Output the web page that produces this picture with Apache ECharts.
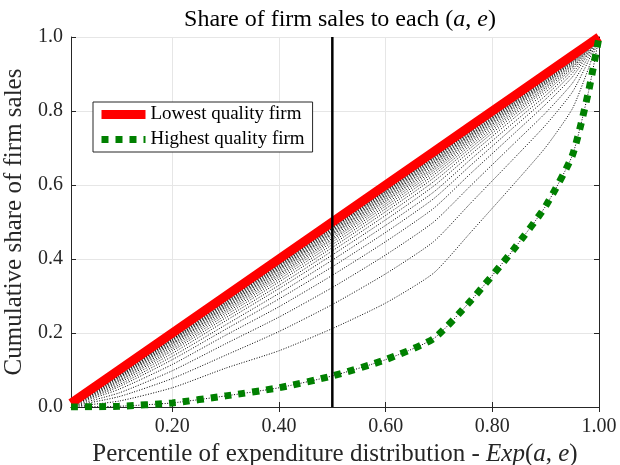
<!DOCTYPE html>
<html>
<head>
<meta charset="utf-8">
<script src="https://cdn.jsdelivr.net/npm/echarts@6/dist/echarts.min.js"></script>
<style>
  html, body { margin: 0; padding: 0; background: #fff; }
  #chart { width: 620px; height: 465px; }
</style>
</head>
<body>
<div id="chart"></div>
<script>
// Percentile grid of the expenditure distribution
const percentiles = [0.01, 0.10, 0.20, 0.30, 0.40, 0.50, 0.60, 0.69, 0.76, 0.84, 0.90, 0.95, 0.98, 1.00];

// Cumulative share of sales for the lowest-quality firm
const lowestShare = [0.01, 0.10, 0.20, 0.30, 0.40, 0.50, 0.60, 0.69, 0.76, 0.84, 0.90, 0.95, 0.98, 1.00];

// Cumulative share of sales for the highest-quality firm
const highestShare = [0.000, 0.002, 0.011, 0.030, 0.052, 0.084, 0.128, 0.185, 0.288, 0.426, 0.543, 0.680, 0.850, 1.000];

// Cumulative shares of the firms in between (high to low quality)
const middleShares = [
  [0.0010, 0.016, 0.052, 0.105, 0.152, 0.212, 0.281, 0.362, 0.473, 0.602, 0.702, 0.806, 0.914, 1],
  [0.0020, 0.028, 0.077, 0.140, 0.204, 0.277, 0.360, 0.447, 0.552, 0.671, 0.762, 0.851, 0.935, 1],
  [0.0030, 0.038, 0.098, 0.171, 0.243, 0.323, 0.411, 0.500, 0.599, 0.711, 0.795, 0.875, 0.946, 1],
  [0.0040, 0.048, 0.115, 0.194, 0.271, 0.356, 0.447, 0.537, 0.632, 0.738, 0.818, 0.892, 0.954, 1],
  [0.0050, 0.055, 0.128, 0.210, 0.292, 0.379, 0.472, 0.563, 0.654, 0.756, 0.832, 0.902, 0.958, 1],
  [0.0055, 0.060, 0.137, 0.222, 0.307, 0.397, 0.491, 0.581, 0.670, 0.769, 0.842, 0.910, 0.962, 1],
  [0.0060, 0.065, 0.145, 0.233, 0.320, 0.411, 0.506, 0.597, 0.683, 0.780, 0.851, 0.916, 0.965, 1],
  [0.0065, 0.069, 0.152, 0.241, 0.329, 0.422, 0.518, 0.609, 0.693, 0.788, 0.858, 0.920, 0.967, 1],
  [0.0068, 0.072, 0.157, 0.248, 0.338, 0.431, 0.528, 0.619, 0.701, 0.794, 0.863, 0.924, 0.968, 1],
  [0.0071, 0.075, 0.162, 0.254, 0.345, 0.439, 0.536, 0.627, 0.708, 0.799, 0.867, 0.927, 0.970, 1],
  [0.0074, 0.078, 0.166, 0.259, 0.351, 0.446, 0.543, 0.634, 0.714, 0.804, 0.872, 0.930, 0.971, 1],
  [0.0077, 0.080, 0.170, 0.263, 0.356, 0.452, 0.549, 0.640, 0.719, 0.808, 0.874, 0.932, 0.972, 1],
  [0.0079, 0.082, 0.172, 0.267, 0.360, 0.456, 0.555, 0.645, 0.723, 0.811, 0.877, 0.934, 0.973, 1],
  [0.0081, 0.084, 0.175, 0.270, 0.364, 0.461, 0.559, 0.649, 0.727, 0.814, 0.879, 0.936, 0.974, 1],
  [0.0083, 0.085, 0.178, 0.273, 0.368, 0.465, 0.563, 0.654, 0.730, 0.817, 0.881, 0.937, 0.974, 1],
  [0.0084, 0.087, 0.180, 0.275, 0.371, 0.468, 0.567, 0.657, 0.733, 0.819, 0.883, 0.939, 0.975, 1],
  [0.0086, 0.088, 0.182, 0.278, 0.374, 0.471, 0.570, 0.661, 0.736, 0.822, 0.885, 0.940, 0.975, 1],
  [0.0087, 0.089, 0.183, 0.280, 0.376, 0.474, 0.573, 0.663, 0.738, 0.823, 0.887, 0.941, 0.976, 1],
  [0.0088, 0.090, 0.185, 0.282, 0.379, 0.477, 0.576, 0.666, 0.740, 0.825, 0.888, 0.942, 0.976, 1],
  [0.0090, 0.091, 0.187, 0.284, 0.381, 0.479, 0.578, 0.669, 0.743, 0.827, 0.889, 0.943, 0.977, 1],
  [0.0091, 0.092, 0.188, 0.286, 0.383, 0.482, 0.581, 0.671, 0.745, 0.828, 0.890, 0.943, 0.977, 1],
  [0.0092, 0.093, 0.189, 0.287, 0.385, 0.483, 0.583, 0.673, 0.746, 0.829, 0.891, 0.944, 0.977, 1],
  [0.0092, 0.094, 0.190, 0.289, 0.386, 0.485, 0.584, 0.675, 0.748, 0.830, 0.892, 0.945, 0.978, 1],
  [0.0093, 0.094, 0.191, 0.290, 0.388, 0.487, 0.586, 0.676, 0.749, 0.832, 0.893, 0.945, 0.978, 1],
  [0.0094, 0.095, 0.193, 0.291, 0.390, 0.489, 0.588, 0.678, 0.750, 0.833, 0.894, 0.946, 0.978, 1],
  [0.0095, 0.096, 0.194, 0.293, 0.391, 0.490, 0.590, 0.680, 0.752, 0.834, 0.895, 0.946, 0.978, 1],
  [0.0096, 0.097, 0.195, 0.294, 0.393, 0.492, 0.592, 0.682, 0.753, 0.835, 0.896, 0.947, 0.979, 1],
  [0.0097, 0.097, 0.196, 0.295, 0.394, 0.494, 0.594, 0.684, 0.755, 0.836, 0.897, 0.948, 0.979, 1],
  [0.0098, 0.098, 0.197, 0.297, 0.396, 0.496, 0.595, 0.685, 0.756, 0.837, 0.898, 0.948, 0.979, 1],
  [0.0099, 0.099, 0.198, 0.298, 0.398, 0.497, 0.597, 0.687, 0.758, 0.838, 0.898, 0.949, 0.980, 1]
];

// Median-percentile marker
const cutoffPercentile = [0.5];

// Axis ticks
const xTicks = [0.2, 0.4, 0.6, 0.8, 1.0];
const yTicks = [0.0, 0.2, 0.4, 0.6, 0.8, 1.0];

const serif = "'Liberation Serif', 'Times New Roman', serif";
const axisColor = '#262626';

const redStyle = { color: '#ff0000', width: 9, cap: 'butt' };
const greenStyle = { color: '#008000', width: 7, type: [7, 7], cap: 'butt' };

function toPoints(values) {
  return percentiles.map((p, i) => [p, values[i]]);
}

const series = [];

// thin dotted curves, one per firm
middleShares.concat([highestShare]).forEach((row, k) => {
  series.push({
    type: 'line',
    name: 'firm' + k,
    data: toPoints(row),
    symbol: 'none',
    showSymbol: false,
    smooth: 0.2,
    silent: true,
    z: 2,
    lineStyle: { color: '#000', width: 1, type: [1, 1.6], cap: 'butt' }
  });
});

series.push({
  type: 'line',
  name: 'Lowest quality firm',
  data: toPoints(lowestShare),
  symbol: 'none',
  showSymbol: false,
  silent: true,
  z: 4,
  color: '#ff0000',
  itemStyle: { opacity: 0 },
  lineStyle: redStyle
});

series.push({
  type: 'line',
  name: 'Highest quality firm',
  data: toPoints(highestShare),
  symbol: 'none',
  showSymbol: false,
  smooth: 0.2,
  silent: true,
  z: 4,
  color: '#008000',
  itemStyle: { opacity: 0 },
  lineStyle: greenStyle
});

series.push({
  type: 'line',
  name: 'cutoff',
  data: [[cutoffPercentile[0], yTicks[0]], [cutoffPercentile[0], yTicks[yTicks.length - 1]]],
  symbol: 'none',
  showSymbol: false,
  silent: true,
  z: 5,
  lineStyle: { color: '#000', width: 2.5 }
});

const chart = echarts.init(document.getElementById('chart'), null, { renderer: 'canvas' });

chart.setOption({
  animation: false,
  backgroundColor: '#fff',
  title: {
    text: 'Share of firm sales to each ({i|a}, {i|e})',
    left: 335,
    top: 3,
    textAlign: 'center',
    textStyle: {
      fontFamily: serif, fontSize: 24, fontWeight: 'normal', color: '#000',
      rich: { i: { fontFamily: serif, fontSize: 24, fontStyle: 'italic', color: '#000' } }
    }
  },
  legend: {
    data: [
      { name: 'Lowest quality firm', lineStyle: redStyle, itemStyle: { opacity: 0 } },
      { name: 'Highest quality firm', lineStyle: greenStyle, itemStyle: { opacity: 0 } }
    ],
    orient: 'vertical',
    left: 93,
    top: 102,
    itemWidth: 44,
    itemHeight: 10,
    itemGap: 6,
    padding: [3, 8, 3, 4],
    backgroundColor: '#fff',
    borderColor: axisColor,
    borderWidth: 1,
    selectedMode: false,
    itemStyle: { opacity: 0 },
    textStyle: { fontFamily: serif, fontSize: 19, color: '#000' }
  },
  grid: { left: 71, right: 21, top: 37, bottom: 58, containLabel: false, outerBoundsMode: 'none' },
  xAxis: [
    {
      type: 'value',
      min: 0.01,
      max: 1,
      position: 'bottom',
      name: 'Percentile of expenditure distribution - {i|Exp}({i|a}, {i|e})',
      nameLocation: 'middle',
      nameGap: 33,
      nameTextStyle: {
        fontFamily: serif, fontSize: 25, color: axisColor,
        rich: { i: { fontFamily: serif, fontSize: 25, fontStyle: 'italic', color: axisColor } }
      },
      axisLine: { show: true, lineStyle: { color: axisColor, width: 1 } },
      axisTick: { show: true, inside: true, length: 5, customValues: xTicks, lineStyle: { color: axisColor } },
      axisLabel: {
        customValues: xTicks,
        formatter: v => v.toFixed(2),
        fontFamily: serif, fontSize: 20, color: axisColor, margin: 10
      },
      splitLine: { show: true, lineStyle: { color: '#e6e6e6', width: 1 } }
    },
    {
      type: 'value',
      min: 0.01,
      max: 1,
      position: 'top',
      axisLine: { show: true, lineStyle: { color: axisColor, width: 1 } },
      axisTick: { show: true, inside: true, length: 5, customValues: xTicks, lineStyle: { color: axisColor } },
      axisLabel: { show: false },
      splitLine: { show: false }
    }
  ],
  yAxis: [
    {
      type: 'value',
      min: 0,
      max: 1,
      interval: 0.2,
      position: 'left',
      name: 'Cumulative share of firm sales',
      nameLocation: 'middle',
      nameGap: 40,
      nameTextStyle: { fontFamily: serif, fontSize: 25, color: axisColor },
      axisLine: { show: true, lineStyle: { color: axisColor, width: 1 } },
      axisTick: { show: true, inside: true, length: 5, lineStyle: { color: axisColor } },
      axisLabel: { formatter: v => v.toFixed(1), fontFamily: serif, fontSize: 20, color: axisColor, margin: 8 },
      splitLine: { show: true, lineStyle: { color: '#e6e6e6', width: 1 } }
    },
    {
      type: 'value',
      min: 0,
      max: 1,
      interval: 0.2,
      position: 'right',
      axisLine: { show: true, lineStyle: { color: axisColor, width: 1 } },
      axisTick: { show: true, inside: true, length: 5, lineStyle: { color: axisColor } },
      axisLabel: { show: false },
      splitLine: { show: false }
    }
  ],
  series: series
});
</script>
</body>
</html>
